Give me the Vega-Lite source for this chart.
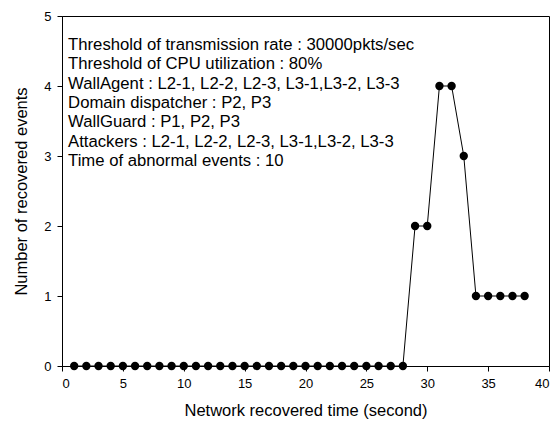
{
  "$schema": "https://vega.github.io/schema/vega-lite/v6.json",
  "autosize": {"type": "none"},
  "padding": {"left": 62, "top": 16, "right": 11, "bottom": 57},
  "width": 487,
  "height": 350,
  "config": {
    "view": {"stroke": "black", "strokeWidth": 1},
    "font": "Liberation Sans",
    "axis": {
      "grid": false,
      "domainColor": "black",
      "tickColor": "black",
      "labelColor": "black",
      "titleColor": "black",
      "labelFontSize": 13,
      "titleFontSize": 16.5,
      "titleFontWeight": "normal",
      "tickSize": 5,
      "labelPadding": 6
    }
  },
  "data": {
    "values": [
      {"t": 1, "n": 0}, {"t": 2, "n": 0}, {"t": 3, "n": 0}, {"t": 4, "n": 0},
      {"t": 5, "n": 0}, {"t": 6, "n": 0}, {"t": 7, "n": 0}, {"t": 8, "n": 0},
      {"t": 9, "n": 0}, {"t": 10, "n": 0}, {"t": 11, "n": 0}, {"t": 12, "n": 0},
      {"t": 13, "n": 0}, {"t": 14, "n": 0}, {"t": 15, "n": 0}, {"t": 16, "n": 0},
      {"t": 17, "n": 0}, {"t": 18, "n": 0}, {"t": 19, "n": 0}, {"t": 20, "n": 0},
      {"t": 21, "n": 0}, {"t": 22, "n": 0}, {"t": 23, "n": 0}, {"t": 24, "n": 0},
      {"t": 25, "n": 0}, {"t": 26, "n": 0}, {"t": 27, "n": 0}, {"t": 28, "n": 0},
      {"t": 29, "n": 2}, {"t": 30, "n": 2}, {"t": 31, "n": 4}, {"t": 32, "n": 4},
      {"t": 33, "n": 3}, {"t": 34, "n": 1}, {"t": 35, "n": 1}, {"t": 36, "n": 1},
      {"t": 37, "n": 1}, {"t": 38, "n": 1}
    ]
  },
  "layer": [
    {
      "mark": {"type": "line", "color": "black", "strokeWidth": 1, "clip": false},
      "encoding": {
        "x": {
          "field": "t", "type": "quantitative",
          "scale": {"domain": [0, 40], "nice": false},
          "axis": {"values": [0, 5, 10, 15, 20, 25, 30, 35, 40], "format": "d", "title": "Network recovered time (second)", "titlePadding": 12}
        },
        "y": {
          "field": "n", "type": "quantitative",
          "scale": {"domain": [0, 5], "nice": false},
          "axis": {"values": [0, 1, 2, 3, 4, 5], "format": "d", "title": "Number of recovered events", "titlePadding": 14}
        }
      }
    },
    {
      "mark": {"type": "point", "filled": true, "color": "black", "size": 70, "opacity": 1, "clip": false},
      "encoding": {
        "x": {"field": "t", "type": "quantitative"},
        "y": {"field": "n", "type": "quantitative"}
      }
    },
    {
      "data": {"values": [{"label": "Threshold of transmission rate : 30000pkts/sec\nThreshold of CPU utilization : 80%\nWallAgent : L2-1, L2-2, L2-3, L3-1,L3-2, L3-3\nDomain dispatcher : P2, P3\nWallGuard : P1, P2, P3\nAttackers : L2-1, L2-2, L2-3, L3-1,L3-2, L3-3\nTime of abnormal events : 10"}]},
      "mark": {"type": "text", "align": "left", "baseline": "top", "fontSize": 16.7, "lineHeight": 19.3, "lineBreak": "\n", "color": "black"},
      "encoding": {
        "text": {"field": "label"},
        "x": {"datum": 0.5},
        "y": {"datum": 4.7}
      }
    }
  ]
}
